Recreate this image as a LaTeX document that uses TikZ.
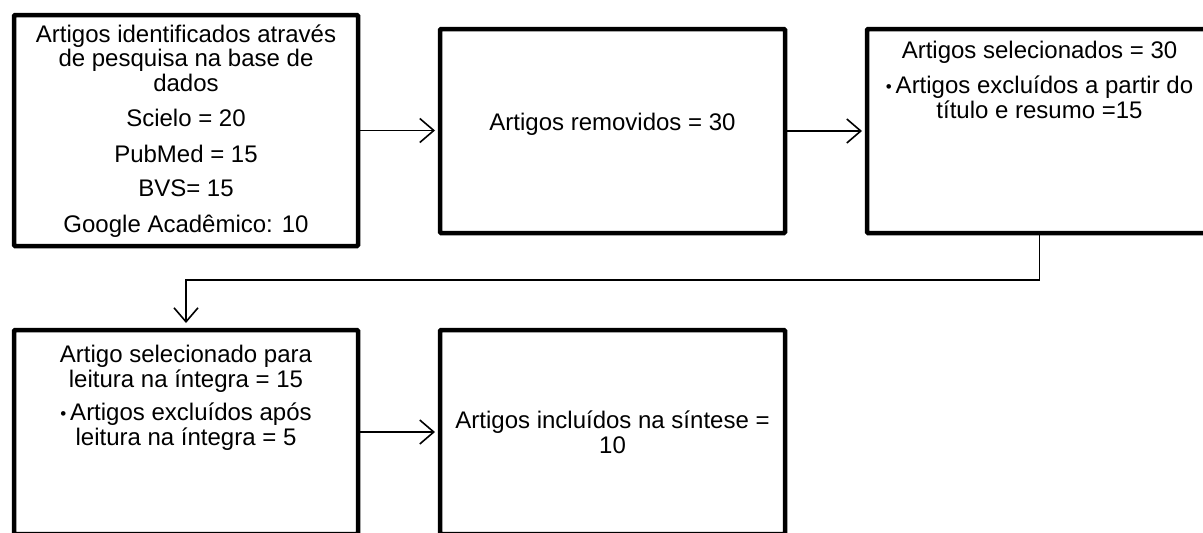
\documentclass[tikz,border=0pt]{standalone}
\usepackage{fontspec}
\setmainfont{Liberation Sans}
\usetikzlibrary{arrows.meta,calc}
\newcommand{\mybullet}{\raisebox{1.5pt}{\fontsize{17}{17}\selectfont •}\,}
\begin{document}
\begin{tikzpicture}[x=1pt,y=-1pt,
  box/.style={draw,line width=4.5pt,rounded corners=1pt,inner sep=0pt,outer sep=0pt,fill=white},
  txt/.style={align=center,inner sep=0pt,font=\fontsize{24}{24.5}\selectfont},
  arr/.style={line width=1.6pt,-{Straight Barb[length=14pt,width=24pt,line width=1.6pt]},shorten >=5pt}]
\useasboundingbox (0,0) rectangle (1203,533);
\clip (0,0) rectangle (1203,533);
\fill[white] (0,0) rectangle (1203,533);
% boxes
\node[box,minimum width=344pt,minimum height=231pt] (b1) at (186,130.5) {};
\node[box,minimum width=345pt,minimum height=204pt] (b2) at (612.5,131) {};
\node[box,minimum width=345pt,minimum height=204pt] (b3) at (1039.5,131) {};
\node[box,minimum width=344pt,minimum height=204pt] (b4) at (186,432) {};
\node[box,minimum width=345pt,minimum height=204pt] (b5) at (612.5,432) {};
% texts (anchor=base is the baseline of the last line)
\node[txt,anchor=base] (t1) at (186,232) {Artigos identificados através\\de pesquisa na base de\\dados\\[11pt]Scielo = 20\\[11pt]PubMed = 15\\[10pt]BVS= 15\\[11pt]Google Acadêmico: 10};
\node[txt,anchor=base] (t2) at (612.5,130) {Artigos removidos = 30};
\node[txt,anchor=base] (t3) at (1039.5,118) {Artigos selecionados = 30\\[11pt]\mybullet Artigos excluídos a partir do\\título e resumo =15};
\node[txt,anchor=base] (t4) at (186,445) {Artigo selecionado para\\leitura na íntegra = 15\\[9pt]\mybullet Artigos excluídos após\\leitura na íntegra = 5};
\node[txt,anchor=base] (t5) at (612.5,453) {Artigos incluídos na síntese =\\10};
% connectors
\coordinate (c1) at ($(b3.south)+(0,47)$);
\draw[arr] (b1.east) -- (b1.east -| b2.west);
\draw[arr] (b2.east) -- (b2.east -| b3.west);
\draw[arr,shorten >=7pt] (b3.south) -- (c1) -| (b4.north);
\draw[arr] (b4.east) -- (b4.east -| b5.west);
\end{tikzpicture}
\end{document}
